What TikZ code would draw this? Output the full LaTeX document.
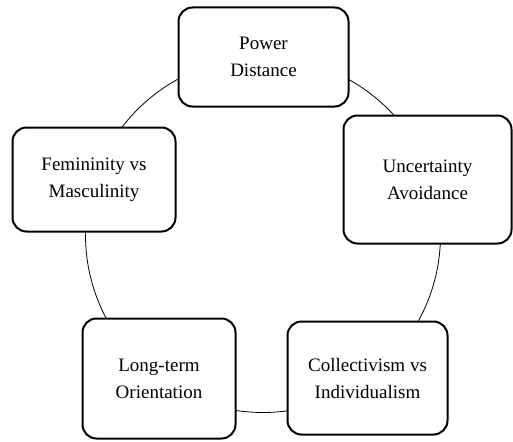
\documentclass[tikz,border=0pt]{standalone}
\usepackage{fontspec}
\setmainfont{Liberation Serif}
\usepackage{tikz}
\tikzset{dimension/.style={draw, line width=2pt, rounded corners=14pt, fill=white, align=center, inner sep=2pt, font=\fontsize{19}{27}\selectfont}}
\tikzset{ring/.style={line width=0.8pt}}

\begin{document}
\begin{tikzpicture}[x=1pt, y=-1pt]
            \useasboundingbox (0, 0) rectangle (513, 441);
            \coordinate (hub) at (263, 235);
            \draw[ring] (hub) circle [radius=177.5];
            \node[dimension, minimum width=170pt, minimum height=99pt] (power) at (263.5, 57) {Power\\Distance};
            \node[dimension, minimum width=168pt, minimum height=128pt] (uncertainty) at (427.5, 179.5) {Uncertainty\\Avoidance};
            \node[dimension, minimum width=163pt, minimum height=104pt] (femininity) at (94, 179.5) {Femininity vs\\Masculinity};
            \node[dimension, minimum width=153pt, minimum height=120pt] (longterm) at (159, 378.5) {Long-term\\Orientation};
            \node[dimension, minimum width=160pt, minimum height=113pt] (collectivism) at (367.5, 378) {Collectivism vs\\Individualism};
        \end{tikzpicture}
\end{document}
